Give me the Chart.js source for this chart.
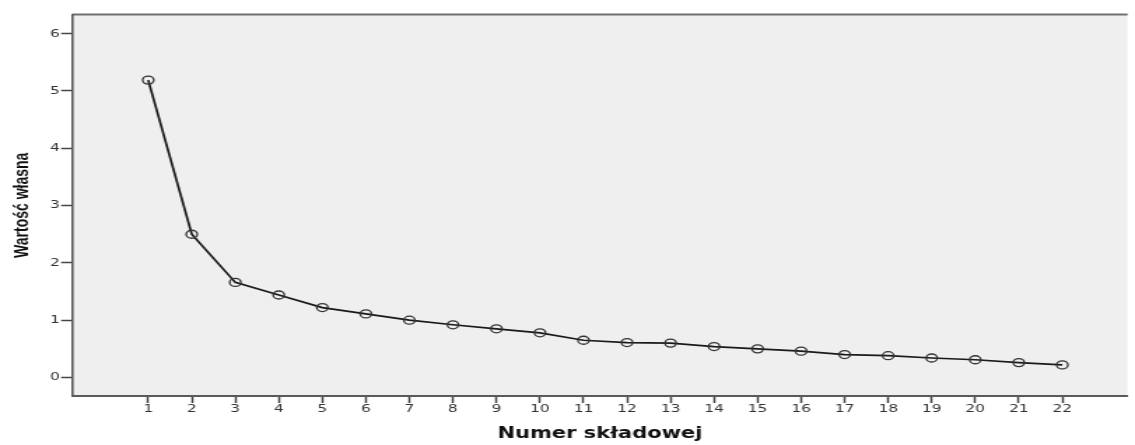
<!DOCTYPE html>
<html>
<head>
<meta charset="utf-8">
<script src="https://cdn.jsdelivr.net/npm/chart.js@4.4.1/dist/chart.umd.min.js"></script>
<style>
  html, body { margin: 0; padding: 0; background: #ffffff; overflow: hidden; }
  #wrap { position: absolute; left: 0; top: 0; width: 811px; height: 445px;
          transform: scaleX(1.3995); transform-origin: 0 0; }
</style>
</head>
<body>
<div id="wrap"><canvas id="c"></canvas></div>
<script>
// Data
const components = [1, 2, 3, 4, 5, 6, 7, 8, 9, 10, 11, 12, 13, 14, 15, 16, 17, 18, 19, 20, 21, 22];
const eigenvalues = [5.19, 2.50, 1.66, 1.44, 1.22, 1.11, 1.00, 0.92, 0.85, 0.78, 0.65, 0.61, 0.60, 0.54, 0.50, 0.46, 0.40, 0.38, 0.34, 0.31, 0.26, 0.22];
const yTickValues = [0, 1, 2, 3, 4, 5, 6];
const xTitle = 'Numer składowej';
const yTitle = 'Wartość własna';

const plotBg = {
  id: 'plotBg',
  beforeDraw(chart) {
    const { ctx, chartArea: a } = chart;
    ctx.save();
    ctx.fillStyle = '#efefef';
    ctx.fillRect(a.left, a.top, a.right - a.left, a.bottom - a.top);
    ctx.strokeStyle = '#707070';
    ctx.lineWidth = 2;
    ctx.beginPath();
    ctx.moveTo(a.left, a.top);
    ctx.lineTo(a.right, a.top);
    ctx.stroke();
    ctx.restore();
  }
};

new Chart(document.getElementById('c'), {
  type: 'line',
  data: {
    datasets: [{
      data: components.map((c, i) => ({ x: c, y: eigenvalues[i] })),
      borderColor: '#1a1a1a',
      borderWidth: 1.7,
      pointRadius: 4,
      pointBorderWidth: 1.3,
      pointBorderColor: '#333333',
      pointBackgroundColor: 'rgba(0,0,0,0)',
      tension: 0,
      clip: false
    }]
  },
  options: {
    responsive: true,
    maintainAspectRatio: false,
    animation: false,
    events: [],
    layout: { padding: { top: 14.5, right: 0, bottom: 0, left: 0 } },
    plugins: { legend: { display: false }, tooltip: { enabled: false } },
    scales: {
      x: {
        type: 'linear',
        min: -0.743,
        max: 23.5,
        afterBuildTicks: s => { s.ticks = components.map(v => ({ value: v })); },
        afterFit: s => { s.height = 49; },
        grid: { drawOnChartArea: false, drawTicks: true, tickLength: 7, tickWidth: 1.5, tickColor: '#444' },
        border: { display: true, color: '#5a5a5a', width: 2 },
        ticks: { color: '#333', padding: 0, maxRotation: 0, autoSkip: false,
                 font: { family: 'DejaVu Sans', size: 11 } },
        title: { display: true, text: xTitle, color: '#111',
                 font: { family: 'DejaVu Sans', size: 15, weight: 'bold' },
                 padding: { top: 0, bottom: 2 } }
      },
      y: {
        type: 'linear',
        min: -0.323,
        max: 6.335,
        afterBuildTicks: s => { s.ticks = yTickValues.map(v => ({ value: v })); },
        afterFit: s => { s.width = 51.7; },
        grid: { drawOnChartArea: false, drawTicks: true, tickLength: 8, tickWidth: 1.5, tickColor: '#444' },
        border: { display: true, color: '#5a5a5a', width: 1.6 },
        ticks: { color: '#333', padding: 1, font: { family: 'DejaVu Sans', size: 11 } },
        title: { display: true, text: yTitle, color: '#111',
                 font: { family: 'Liberation Sans', size: 14, weight: 'bold' },
                 padding: { top: 7.3, bottom: 0 } }
      }
    }
  },
  plugins: [plotBg]
});
</script>
</body>
</html>
